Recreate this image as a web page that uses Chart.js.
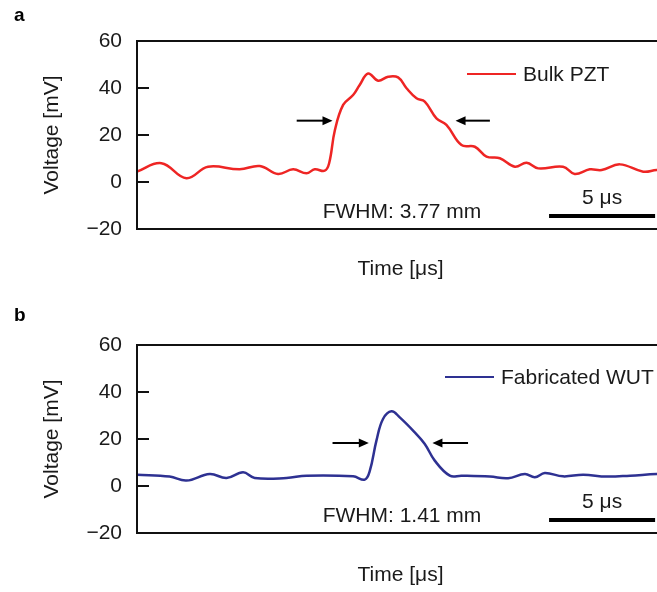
<!DOCTYPE html>
<html><head><meta charset="utf-8">
<script src="https://cdn.jsdelivr.net/npm/chart.js@4.4.1/dist/chart.umd.min.js"></script>
<style>
html,body{margin:0;padding:0;overflow:hidden;background:#fff;width:657px;height:592px;}
canvas{position:absolute;left:0;}
#ca{top:0}
#cb{top:304px}
</style></head><body>
<canvas id="ca" width="664" height="290"></canvas>
<canvas id="cb" width="664" height="288"></canvas>
<script>
// ---- data (time in µs, voltage in mV) ----
const timeA = [0.00, 1.15, 2.33, 3.35, 4.84, 5.79, 6.65, 7.36, 7.99, 8.38, 8.85, 9.06, 9.33, 9.72, 10.19, 10.50, 10.90, 11.37, 11.84, 12.31, 12.71, 13.18, 13.57, 14.12, 14.59, 15.30, 15.93, 16.48, 17.11, 17.82, 18.37, 18.92, 20.09, 20.64, 21.35, 21.91, 22.77, 23.87, 24.50, 24.85];
const voltA = [4.4, 8.0, 1.6, 6.5, 5.4, 6.8, 3.4, 5.4, 3.7, 5.4, 4.8, 8.0, 22.0, 32.8, 37.0, 41.3, 46.2, 43.1, 44.8, 44.5, 39.9, 35.6, 34.2, 27.1, 24.3, 15.7, 15.0, 10.8, 10.1, 6.5, 8.2, 5.8, 6.5, 3.4, 5.4, 5.1, 7.5, 4.4, 5.1, 5.0];
const timeB = [0.00, 1.54, 2.33, 3.43, 4.22, 5.00, 5.55, 7.05, 7.99, 10.19, 10.74, 10.98, 11.29, 11.60, 12.00, 12.39, 13.10, 13.57, 14.04, 14.75, 15.30, 16.64, 17.50, 18.29, 18.76, 19.23, 20.09, 21.04, 22.14, 23.25, 24.50, 24.85];
const voltB = [4.8, 4.0, 2.3, 5.1, 3.4, 5.8, 3.4, 3.4, 4.4, 4.1, 2.7, 6.5, 19.3, 28.5, 31.8, 29.2, 22.8, 17.9, 10.8, 4.4, 4.4, 4.0, 3.3, 5.1, 3.7, 5.5, 4.1, 4.8, 4.0, 4.4, 5.1, 5.0];
const seriesNames = ['Bulk PZT', 'Fabricated WUT'];
const seriesColors = ['#ee2524', '#2e3192'];
const fwhmLabels = ['FWHM: 3.77 mm', 'FWHM: 1.41 mm'];
const panelLetters = ['a', 'b'];
const yTicks = [-20, 0, 20, 40, 60];
const scaleBarLength = 5;        // µs
const scaleBarLabel = '5 μs';

const FONT = "'Liberation Sans', Arial, Helvetica, sans-serif";
const FS = 21;
const TXT = '#1a1a1a';
const X_MAX = 24.85;

const decor = {
  id: 'decor',
  afterDatasetsDraw(chart, args, o) {
    const ctx = chart.ctx;
    const {left, top, right, bottom} = chart.chartArea;
    const xs = chart.scales.x, ys = chart.scales.y;
    ctx.save();
    // frame
    ctx.strokeStyle = '#111';
    ctx.lineWidth = 2;
    ctx.strokeRect(left, top, right - left, bottom - top);
    // inward y ticks
    ys.ticks.forEach(t => {
      const y = Math.round(ys.getPixelForValue(t.value));
      ctx.beginPath(); ctx.moveTo(left, y); ctx.lineTo(left + 12, y); ctx.stroke();
    });
    // legend
    const ds = chart.data.datasets[0];
    const ly = top + o.legendDY;
    ctx.strokeStyle = ds.borderColor; ctx.lineWidth = 2;
    ctx.beginPath(); ctx.moveTo(left + o.legendX, ly); ctx.lineTo(left + o.legendX + 49, ly); ctx.stroke();
    ctx.fillStyle = TXT; ctx.font = FS + 'px ' + FONT;
    ctx.textAlign = 'left'; ctx.textBaseline = 'middle';
    ctx.fillText(ds.label, left + o.legendX + 56, ly + 1);
    // arrows
    const arrow = (x0, x1, yv) => {
      const px0 = xs.getPixelForValue(x0), px1 = xs.getPixelForValue(x1), py = ys.getPixelForValue(yv);
      const dir = Math.sign(px1 - px0);
      ctx.strokeStyle = '#000'; ctx.fillStyle = '#000'; ctx.lineWidth = 2;
      ctx.beginPath(); ctx.moveTo(px0, py); ctx.lineTo(px1 - dir * 8, py); ctx.stroke();
      ctx.beginPath(); ctx.moveTo(px1, py); ctx.lineTo(px1 - dir * 10, py - 4.5); ctx.lineTo(px1 - dir * 10, py + 4.5); ctx.closePath(); ctx.fill();
    };
    arrow(o.arrowL[0], o.arrowL[1], o.arrowY);
    arrow(o.arrowR[0], o.arrowR[1], o.arrowY);
    // scale bar
    const bx0 = xs.getPixelForValue(o.barStart), bx1 = xs.getPixelForValue(o.barStart + scaleBarLength);
    ctx.fillStyle = '#000';
    ctx.fillRect(bx0, bottom - 15, bx1 - bx0, 4);
    ctx.fillStyle = TXT; ctx.textAlign = 'center'; ctx.textBaseline = 'middle';
    ctx.font = FS + 'px ' + FONT;
    ctx.fillText(scaleBarLabel, (bx0 + bx1) / 2, bottom - 31);
    // FWHM label
    ctx.fillText(o.fwhm, 402, bottom - 17);
    // panel letter
    ctx.font = 'bold 19px ' + FONT; ctx.textAlign = 'left'; ctx.textBaseline = 'alphabetic';
    ctx.fillStyle = '#000';
    ctx.fillText(o.letter, 14, o.letterY);
    ctx.restore();
  }
};

function makeChart(id, times, volts, idx, extra) {
  return new Chart(document.getElementById(id), {
    type: 'line',
    data: {
      datasets: [{
        label: seriesNames[idx],
        data: times.map((t, i) => ({x: t, y: volts[i]})),
        borderColor: seriesColors[idx],
        borderWidth: 2.5,
        pointRadius: 0,
        tension: 0.4,
        fill: false
      }]
    },
    options: {
      responsive: false, animation: false, devicePixelRatio: 1,
      layout: {padding: {top: 41, right: 0, left: 0, bottom: 0}},
      plugins: {legend: {display: false}, tooltip: {enabled: false}, decor: extra},
      scales: {
        x: {
          type: 'linear', min: 0, max: X_MAX,
          ticks: {display: false},
          grid: {display: false, drawTicks: false},
          border: {display: false},
          title: {display: true, text: 'Time [μs]', color: TXT, font: {family: FONT, size: FS}, padding: {top: 0, bottom: extra.xTitlePad}},
          afterFit: s => { s.height = extra.xH; }
        },
        y: {
          min: -20, max: 60,
          afterBuildTicks: s => { s.ticks = yTicks.map(v => ({value: v})); },
          ticks: {padding: 15, color: TXT, font: {family: FONT, size: FS},
            callback: v => v < 0 ? '\u2212' + Math.abs(v) : String(v)},
          grid: {display: false, drawTicks: false},
          border: {display: false},
          title: {display: true, text: 'Voltage [mV]', color: TXT, font: {family: FONT, size: FS}, padding: {top: 40, bottom: 0}},
          afterFit: s => { s.width = 137; }
        }
      }
    },
    plugins: [decor]
  });
}

makeChart('ca', timeA, voltA, 0, {
  letter: panelLetters[0], letterY: 21, fwhm: fwhmLabels[0],
  legendX: 330, legendDY: 33,
  arrowY: 26.1, arrowL: [7.53, 9.22], arrowR: [16.64, 15.02],
  barStart: 19.43, xH: 61, xTitlePad: 8
});
makeChart('cb', timeB, voltB, 1, {
  letter: panelLetters[1], letterY: 17, fwhm: fwhmLabels[1],
  legendX: 308, legendDY: 32,
  arrowY: 18.3, arrowL: [9.22, 10.93], arrowR: [15.61, 13.93],
  barStart: 19.43, xH: 59, xTitlePad: 4
});
</script>
</body></html>
